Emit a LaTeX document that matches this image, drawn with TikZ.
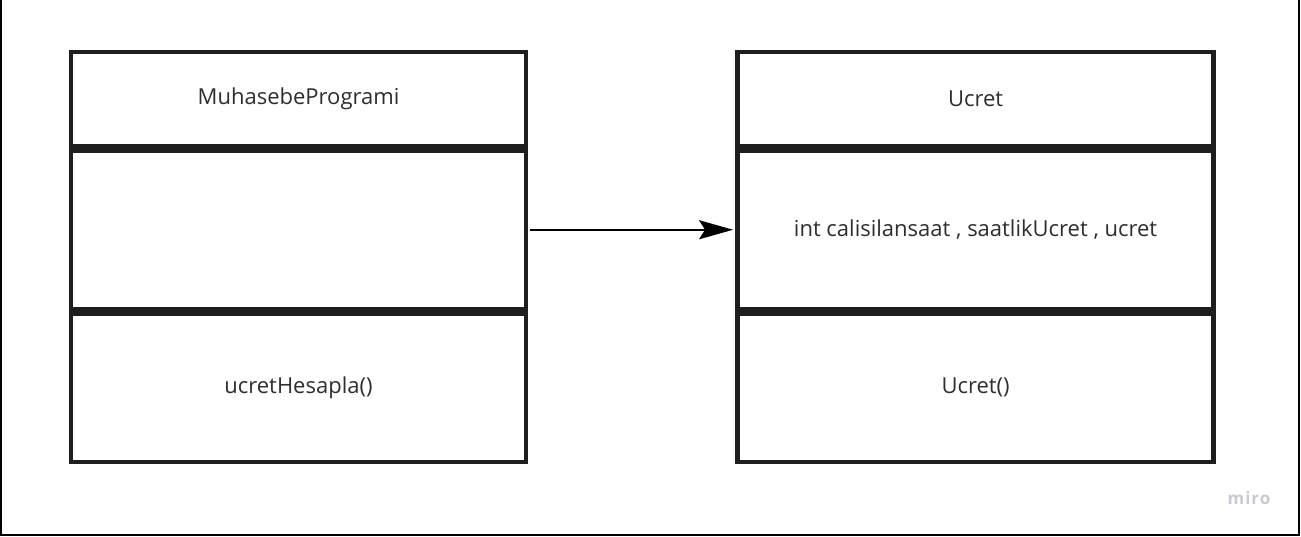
\documentclass[tikz,border=0pt]{standalone}
\usepackage{fontspec}
\setmainfont{Open Sans}
\usetikzlibrary{arrows.meta}
\definecolor{boxline}{HTML}{1E1E1E}
\definecolor{txt}{HTML}{2E2E2E}
\definecolor{logo}{HTML}{C9CACF}
\tikzset{
  comp/.style={draw=boxline, line width=4.4pt, rectangle, inner sep=0pt, outer sep=0pt,
    text=txt, font=\fontsize{22}{26}\selectfont},
  frameline/.style={draw=black, line width=2pt},
  conn/.style={draw=black, line width=2.2pt, -{Stealth[length=34pt,width=19pt,inset=6pt]}}
}
\begin{document}
\begin{tikzpicture}[x=1pt,y=-1pt]
\useasboundingbox (0,0) rectangle (1301,536);
\fill[white] (0,0) rectangle (1301,536);
\coordinate (f1) at (1,0);
\coordinate (f2) at (1,535);
\coordinate (f3) at (1299,535);
\coordinate (f4) at (1299,0);
\draw[frameline] (f1) -- (f2) -- (f3) -- (f4);
% left class
\node[comp, minimum width=455pt, minimum height=94pt] (lt) at (298.5,99) {MuhasebeProgrami};
\node[comp, minimum width=455pt, minimum height=158.5pt] (lm) at (298.5,229.75) {};
\node[comp, minimum width=455pt, minimum height=148.5pt] (lb) at (298.5,387.75) {ucretHesapla()};
% right class
\node[comp, minimum width=476pt, minimum height=94pt] (rt) at (975.6,99) {Ucret};
\node[comp, minimum width=476pt, minimum height=158.5pt] (rm) at (975.6,229.75) {int calisilansaat , saatlikUcret , ucret};
\node[comp, minimum width=476pt, minimum height=148.5pt] (rb) at (975.6,387.75) {Ucret()};
\draw[conn, shorten <=4pt, shorten >=4.5pt] (lm.east) -- (rm.west);
\node[text=logo, font=\fontsize{17}{19}\selectfont\bfseries\addfontfeatures{LetterSpace=6}] (miro) at (1249,498) {miro};
\end{tikzpicture}
\end{document}
